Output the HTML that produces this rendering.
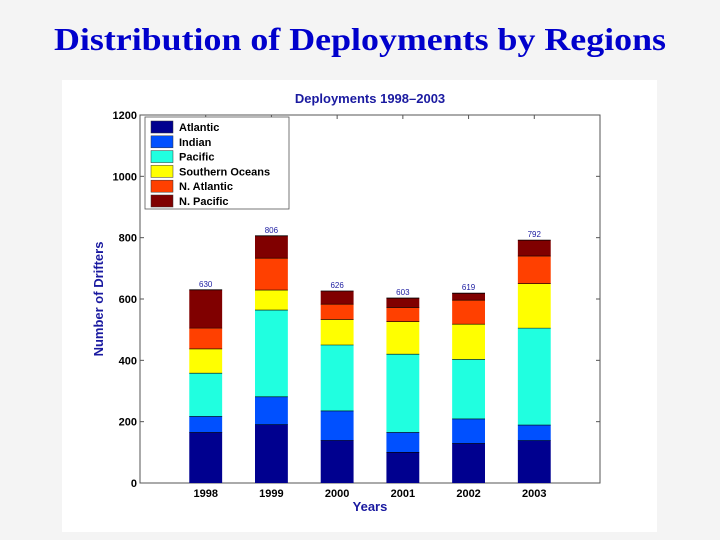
<!DOCTYPE html>
<html><head><meta charset="utf-8"><style>
html,body{margin:0;padding:0;width:720px;height:540px;overflow:hidden;background:#f5f5f5}
</style></head><body>
<svg id="c" width="720" height="540" xmlns="http://www.w3.org/2000/svg">
<rect x="0" y="0" width="720" height="540" fill="#f4f4f4"/>
<text x="360" y="50" text-anchor="middle" font-family="Liberation Serif, serif" font-weight="bold" font-size="32" fill="#0000cc" textLength="612" lengthAdjust="spacingAndGlyphs">Distribution of Deployments by Regions</text>
<rect x="62" y="80" width="595" height="452" fill="#fff"/>
<text x="370" y="103" text-anchor="middle" font-family="Liberation Sans, sans-serif" font-weight="bold" font-size="13" fill="#1a1aa0">Deployments 1998–2003</text>
<g id="plot"></g>
</svg>
<script>
const years = ["1998","1999","2000","2001","2002","2003"];
const seriesNames = ["Atlantic","Indian","Pacific","Southern Oceans","N. Atlantic","N. Pacific"];
const atlantic = [165,190,139,100,129,138];
const indian = [52,91,96,65,80,51];
const pacific = [141,283,215,255,194,316];
const southern = [79,65,83,106,115,145];
const nAtlantic = [68,104,50,46,78,90];
const nPacific = [125,73,43,31,23,52];
const totals = [630,806,626,603,619,792];
const yTicks = [0,200,400,600,800,1000,1200];
const colors = ["#00008f","#0050ff","#20ffe0","#ffff00","#ff4000","#800000"];
const series = [atlantic,indian,pacific,southern,nAtlantic,nPacific];
const NS="http://www.w3.org/2000/svg";
const L=140,R=600,T=115,B=483;
const y=v=>B-(v/1200)*(B-T);
const x=i=>L+(i+1)*(R-L)/7;
const bw=0.5*(R-L)/7;
const g=document.getElementById('plot');
function mk(t,a){const e=document.createElementNS(NS,t);for(const k in a)e.setAttribute(k,a[k]);g.appendChild(e);return e;}
let e=mk('rect',{x:L,y:T,width:R-L,height:B-T,fill:'none',stroke:'#555','stroke-width':1});


yTicks.forEach(v=>{
 let t=mk('line',{x1:L,x2:L+4,y1:y(v),y2:y(v),stroke:'#555'});
 
 
 let t2=mk('line',{x1:R-4,x2:R,y1:y(v),y2:y(v),stroke:'#555'});
 
 
 let l=mk('text',{x:L-3,y:y(v)+4,'text-anchor':'end','font-family':'Liberation Sans, sans-serif','font-size':11,'font-weight':'bold',fill:'#000'});
 l.textContent=v;
 
 
});
years.forEach((yr,i)=>{
 let t=mk('line',{x1:x(i),x2:x(i),y1:T,y2:T+4,stroke:'#555'});
 
 
 let cum=0;
 series.forEach((s,k)=>{
  const v=s[i];
  let r=mk('rect',{x:x(i)-bw/2,y:y(cum+v),width:bw,height:y(cum)-y(cum+v),fill:colors[k]});
  
  
  cum+=v;
  if(k>0){let sl=mk('line',{x1:x(i)-bw/2,x2:x(i)+bw/2,y1:y(cum-v),y2:y(cum-v),stroke:'#000','stroke-width':0.6});
   
   }
 });
 let tl=mk('line',{x1:x(i)-bw/2,x2:x(i)+bw/2,y1:y(cum),y2:y(cum),stroke:'#000','stroke-width':0.8});
 
 
 let tv=mk('text',{x:x(i),y:y(cum)-3,'text-anchor':'middle','font-family':'Liberation Sans, sans-serif','font-size':8,fill:'#1a1aa0'});
 tv.textContent=totals[i];
 
 
 let xl=mk('text',{x:x(i),y:B+14,'text-anchor':'middle','font-family':'Liberation Sans, sans-serif','font-size':11,'font-weight':'bold',fill:'#000'});
 xl.textContent=yr;
 
 
});
let xt=mk('text',{x:370,y:511,'text-anchor':'middle','font-family':'Liberation Sans, sans-serif','font-size':13,'font-weight':'bold',fill:'#1a1aa0'});
xt.textContent='Years';


let yt=mk('text',{x:0,y:0,transform:'translate(103,299) rotate(-90)','text-anchor':'middle','font-family':'Liberation Sans, sans-serif','font-size':13,'font-weight':'bold',fill:'#1a1aa0'});
yt.textContent='Number of Drifters';


let lb=mk('rect',{x:145,y:117,width:144,height:92,fill:'#fff',stroke:'#555','stroke-width':0.8});


seriesNames.forEach((n,k)=>{
 const yy=121+k*14.8;
 let sw=mk('rect',{x:151,y:yy,width:22,height:12,fill:colors[k],stroke:'#333','stroke-width':0.5});
 
 
 let lt=mk('text',{x:179,y:yy+10,'font-family':'Liberation Sans, sans-serif','font-size':11,'font-weight':'bold',fill:'#000'});
 lt.textContent=n;
 
 
});
</script>
</body></html>
